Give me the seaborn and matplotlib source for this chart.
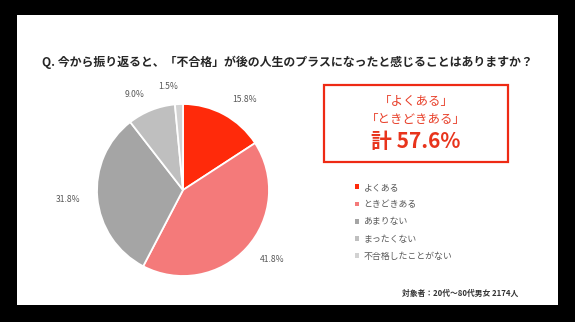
import matplotlib
matplotlib.use("Agg")
import matplotlib.pyplot as plt
import matplotlib.patches as mpatches
import seaborn as sns

# ---- data ----
categories = ["よくある", "ときどきある", "あまりない", "まったくない", "不合格したことがない"]
values = [15.8, 41.8, 31.8, 9.0, 1.5]
colors = ["#FF2A0A", "#F47A7A", "#A5A5A5", "#BFBFBF", "#D2D2D2"]
title = "Q. 今から振り返ると、「不合格」が後の人生のプラスになったと感じることはありますか？"
box_lines = ["「よくある」", "「ときどきある」"]
box_total = "計 57.6%"
footnote = "対象者：20代～80代男女 2174人"

sns.set_theme(style="white")
plt.rcParams["font.family"] = ["Noto Sans CJK JP", "DejaVu Sans"]

W, H = 575, 322
fig = plt.figure(figsize=(W / 100, H / 100), dpi=100)
fig.patch.set_facecolor("black")

def fx(x):
    return x / W

def fy(y):
    return 1 - y / H

# white slide area
fig.patches.append(mpatches.Rectangle((fx(17), fy(305)), fx(558) - fx(17), fy(15) - fy(305),
                                      transform=fig.transFigure, facecolor="white",
                                      edgecolor="none", zorder=-5))

# title
fig.text(fx(287), fy(62), title, ha="center", va="center", fontsize=8.6,
         fontweight="bold", color="#262626")

# pie
cx, cy, r = 183, 190, 86
ax = fig.add_axes([fx(cx - r), fy(cy + r), (2 * r) / W, (2 * r) / H])
ax.set_zorder(2)
ax.patch.set_alpha(0)
pal = sns.color_palette(colors)
labels = [f"{v:.1f}%" for v in values]
wedges, texts = ax.pie(values, colors=pal, startangle=90, counterclock=False,
                       labels=labels, labeldistance=1.2,
                       wedgeprops=dict(edgecolor="white", linewidth=1.3),
                       textprops=dict(fontsize=6.2, color="#595959"))
ax.set_xlim(-1, 1)
ax.set_ylim(-1, 1)
ax.set_aspect("auto")
ax.axis("off")

# red box
fig.patches.append(mpatches.Rectangle((fx(324), fy(162)), fx(508) - fx(324), fy(85) - fy(162),
                                      transform=fig.transFigure, facecolor="none",
                                      edgecolor="#EE2A14", linewidth=1.6, zorder=3))
fig.text(fx(416), fy(102), box_lines[0], ha="center", va="center", fontsize=9,
         color="#E8402A")
fig.text(fx(416), fy(119), box_lines[1], ha="center", va="center", fontsize=9,
         color="#E8402A")
fig.text(fx(416), fy(141), box_total, ha="center", va="center", fontsize=15,
         fontweight="bold", color="#E8341C")

# legend
handles = [mpatches.Patch(facecolor=c, edgecolor="none") for c in colors]
leg = fig.legend(handles, categories, loc="upper left",
                 bbox_to_anchor=(fx(355), fy(183)), frameon=False,
                 fontsize=6.4, handlelength=0.45, handleheight=0.45,
                 handletextpad=0.5, labelspacing=0.92, borderpad=0,
                 borderaxespad=0)
for t in leg.get_texts():
    t.set_color("#595959")

# footnote
fig.text(fx(518), fy(293), footnote, ha="right", va="center", fontsize=5.6,
         fontweight="bold", color="#333333")

fig.savefig("out.png", dpi=100, facecolor=fig.get_facecolor())
